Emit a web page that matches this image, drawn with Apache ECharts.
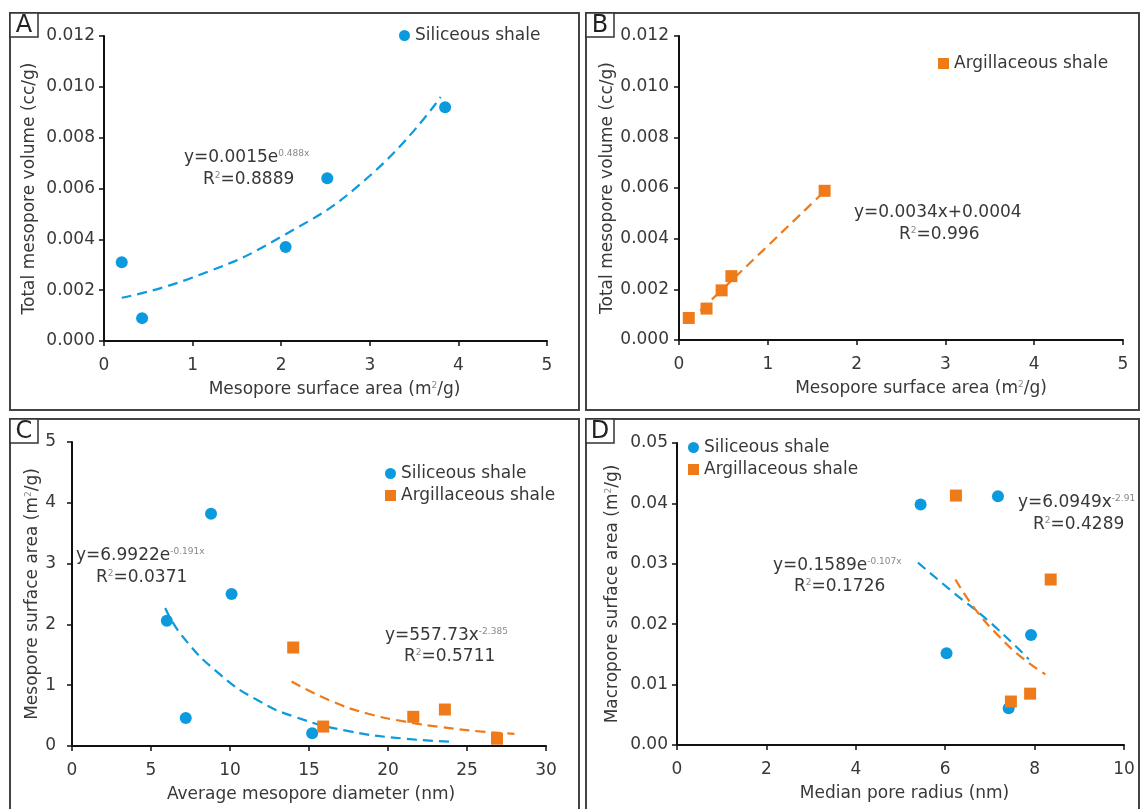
<!DOCTYPE html>
<html><head><meta charset="utf-8">
<script src="https://cdn.jsdelivr.net/npm/echarts@6/dist/echarts.min.js"></script>
<style>html,body{margin:0;padding:0;background:#fff}#c{width:1142px;height:809px}</style>
</head><body><div id="c"></div>
<script>
// ---------- data ----------
const aSilX = [0.2, 0.43, 2.05, 2.52, 3.85];
const aSilY = [0.0031, 0.0009, 0.0037, 0.0064, 0.0092];
const aFitX = [0.2, 1.0, 2.0, 3.0, 3.8];
const aFitY = [0.0017, 0.0025, 0.0041, 0.0065, 0.0096];

const bArgX = [0.11, 0.31, 0.48, 0.59, 1.64];
const bArgY = [0.00087, 0.00124, 0.00196, 0.00252, 0.00589];
const bFitX = [0.24, 1.63];
const bFitY = [0.00116, 0.00584];

const cSilX = [6.0, 7.2, 8.8, 10.1, 15.2];
const cSilY = [2.06, 0.46, 3.82, 2.50, 0.21];
const cArgX = [14.0, 15.9, 21.6, 23.6, 26.9];
const cArgY = [1.62, 0.32, 0.48, 0.60, 0.12];
const cSilFitX = [5.9, 7.0, 9.4, 11.7, 14.1, 17.6, 21.1, 24.0];
const cSilFitY = [2.27, 1.80, 1.17, 0.76, 0.48, 0.24, 0.12, 0.07];
const cArgFitX = [13.9, 16.4, 18.75, 21.1, 23.4, 25.8, 28.0];
const cArgFitY = [1.06, 0.74, 0.53, 0.40, 0.31, 0.24, 0.20];

const dSilX = [5.45, 6.03, 7.18, 7.42, 7.92];
const dSilY = [0.0398, 0.0152, 0.0412, 0.0061, 0.0182];
const dArgX = [6.24, 7.47, 7.90, 8.36];
const dArgY = [0.0413, 0.0072, 0.0085, 0.0274];
const dSilFitX = [5.39, 6.19, 6.99, 7.87];
const dSilFitY = [0.0302, 0.0252, 0.0204, 0.0142];
const dArgFitX = [6.23, 6.67, 7.23, 7.71, 8.24];
const dArgFitY = [0.0274, 0.0225, 0.0178, 0.0145, 0.0117];

const seriesNames = ['Siliceous shale', 'Argillaceous shale'];
const panelLetters = ['A', 'B', 'C', 'D'];
const xTitles = ['Mesopore surface area (m{s|2}/g)', 'Mesopore surface area (m{s|2}/g)',
                 'Average mesopore diameter (nm)', 'Median pore radius (nm)'];
const yTitles = ['Total mesopore volume (cc/g)', 'Total mesopore volume (cc/g)',
                 'Mesopore surface area (m{s|2}/g)', 'Macropore surface area (m{s|2}/g)'];
const xRanges = [[0, 5, 1], [0, 5, 1], [0, 30, 5], [0, 10, 2]];
const yRanges = [[0, 0.012, 0.002], [0, 0.012, 0.002], [0, 5, 1], [0, 0.05, 0.01]];
const yDecimals = [3, 3, 0, 2];
const eqTexts = [
  ['y=0.0015e{s|0.488x}', 'R{s|2}=0.8889'],
  ['y=0.0034x+0.0004', 'R{s|2}=0.996'],
  ['y=6.9922e{s|-0.191x}', 'R{s|2}=0.0371', 'y=557.73x{s|-2.385}', 'R{s|2}=0.5711'],
  ['y=6.0949x{s|-2.91}', 'R{s|2}=0.4289', 'y=0.1589e{s|-0.107x}', 'R{s|2}=0.1726']
];

// ---------- style ----------
const BLUE = '#0c9ade', ORANGE = '#ee7a1a';
const FONT = 'DejaVu Sans';
const TXT = '#383838';
const zip = (xs, ys) => xs.map((x, i) => [x, ys[i]]);
const rich = { s: { fontSize: 9, color: '#888', verticalAlign: 'top', fontFamily: FONT } };

const grids = [
  { left: 104, top: 36, width: 443, height: 305 },
  { left: 679, top: 36, width: 444, height: 304 },
  { left: 72, top: 442, width: 474, height: 304 },
  { left: 677, top: 443, width: 447, height: 302 }
];
const yLabelMargin = [9, 10, 16, 9];
const yNameGap = [66, 63, 31, 56];
const xNamePad = [[0, 0, 0, 18], [0, 0, 0, 40], [0, 0, 0, 4], [0, 0, 0, 8]];

const axisCommon = {
  axisLine: { show: true, onZero: false, lineStyle: { color: '#111', width: 2 } },
  axisTick: { show: true, length: 5, lineStyle: { color: '#111', width: 1.5 } },
  splitLine: { show: false }
};

const xAxes = xRanges.map((r, i) => Object.assign({}, axisCommon, {
  type: 'value', gridIndex: i, min: r[0], max: r[1], interval: r[2],
  name: xTitles[i], nameLocation: 'middle', nameGap: 40,
  nameTextStyle: { fontSize: 17, fontFamily: FONT, color: TXT, rich: rich, padding: xNamePad[i] },
  axisLabel: { fontSize: 17, fontFamily: FONT, color: TXT, margin: 16 }
}));
const yAxes = yRanges.map((r, i) => Object.assign({}, axisCommon, {
  type: 'value', gridIndex: i, min: r[0], max: r[1], interval: r[2],
  name: yTitles[i], nameLocation: 'middle', nameGap: yNameGap[i], nameRotate: 90,
  nameTextStyle: { fontSize: 17, fontFamily: FONT, color: TXT, rich: rich },
  axisLabel: { fontSize: 17, fontFamily: FONT, color: TXT, margin: yLabelMargin[i],
               formatter: v => v.toFixed(yDecimals[i]) }
}));

function scatter(name, gi, data, isSquare) {
  return { type: 'scatter', name: name, xAxisIndex: gi, yAxisIndex: gi, data: data,
           symbol: isSquare ? 'rect' : 'circle', symbolSize: 12,
           itemStyle: { color: isSquare ? ORANGE : BLUE, opacity: 1 }, z: 3 };
}
function fit(gi, data, color) {
  return { type: 'line', name: 'fit', xAxisIndex: gi, yAxisIndex: gi, data: data,
           smooth: true, showSymbol: false, symbol: 'none', silent: true,
           lineStyle: { color: color, width: 2.2, type: [10, 6] }, z: 2 };
}

const series = [
  scatter(seriesNames[0], 0, zip(aSilX, aSilY), false),
  fit(0, zip(aFitX, aFitY), BLUE),
  scatter(seriesNames[1], 1, zip(bArgX, bArgY), true),
  fit(1, zip(bFitX, bFitY), ORANGE),
  scatter(seriesNames[0], 2, zip(cSilX, cSilY), false),
  scatter(seriesNames[1], 2, zip(cArgX, cArgY), true),
  fit(2, zip(cSilFitX, cSilFitY), BLUE),
  fit(2, zip(cArgFitX, cArgFitY), ORANGE),
  scatter(seriesNames[0], 3, zip(dSilX, dSilY), false),
  scatter(seriesNames[1], 3, zip(dArgX, dArgY), true),
  fit(3, zip(dSilFitX, dSilFitY), BLUE),
  fit(3, zip(dArgFitX, dArgFitY), ORANGE)
];

const legText = { fontSize: 17, fontFamily: FONT, color: TXT };
function legend(left, top, items) {
  return { left: left, top: top, orient: 'vertical', itemGap: 5, padding: 0,
           itemWidth: 11, itemHeight: 11, selectedMode: false, textStyle: legText,
           data: items.map(k => ({ name: seriesNames[k], icon: k === 0 ? 'circle' : 'rect',
                                   itemStyle: { opacity: 1 } })) };
}
const legends = [
  legend(399, 27, [0]),
  legend(938, 55, [1]),
  legend(385, 465, [0, 1]),
  legend(688, 439, [0, 1])
];

// ---------- layout graphics (frames, panel letters, equations) ----------
const frames = [[10, 13, 569, 397], [586, 13, 553, 397], [10, 419, 569, 400], [586, 419, 553, 400]];
const graphic = [];
frames.forEach((f, i) => {
  graphic.push({ type: 'rect', silent: true, shape: { x: f[0], y: f[1], width: f[2], height: f[3] },
                 style: { fill: 'none', stroke: '#444', lineWidth: 2 } });
  graphic.push({ type: 'rect', silent: true, shape: { x: f[0], y: f[1], width: 28, height: 24 },
                 style: { fill: '#fff', stroke: '#333', lineWidth: 1.5 } });
  graphic.push({ type: 'text', silent: true, x: f[0] + 14, y: f[1] + 13,
                 style: { text: panelLetters[i], fontSize: 24, fontFamily: FONT, fill: '#222',
                          align: 'center', verticalAlign: 'middle' } });
});
const eqPos = [
  [[184, 158], [203, 180]],
  [[854, 213], [899, 235]],
  [[76, 556], [96, 578], [385, 636], [404, 657]],
  [[1018, 503], [1033, 525], [773, 566], [794, 587]]
];
eqTexts.forEach((arr, p) => arr.forEach((t, k) => {
  graphic.push({ type: 'text', silent: true, x: eqPos[p][k][0], y: eqPos[p][k][1],
    style: { text: t, fontSize: 17, fontFamily: FONT, fill: TXT, verticalAlign: 'middle',
             rich: { s: { fontSize: 9, fill: '#888', verticalAlign: 'top', fontFamily: FONT } } } });
}));

const chart = echarts.init(document.getElementById('c'), null, { renderer: 'canvas' });
chart.setOption({
  animation: false,
  backgroundColor: '#fff',
  grid: grids,
  xAxis: xAxes,
  yAxis: yAxes,
  legend: legends,
  series: series,
  graphic: graphic
});
</script></body></html>
